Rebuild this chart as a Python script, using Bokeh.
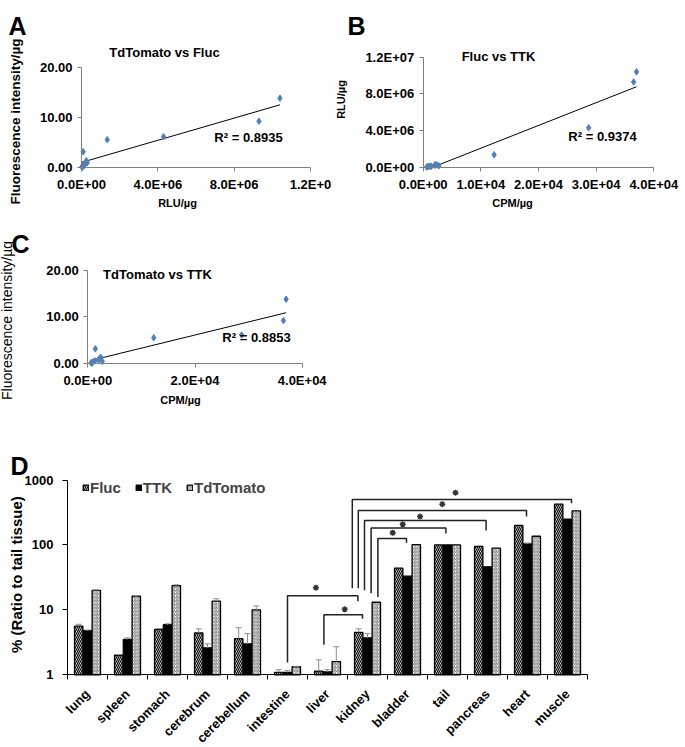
import math
import numpy as np
from bokeh.plotting import figure
from bokeh.models import (Label, ColumnDataSource, FixedTicker, Whisker, TeeHead, Legend,
                          LegendItem, Range1d, LinearAxis, LogAxis, LogScale)
from bokeh.embed import file_html
from bokeh.resources import INLINE

FONT = "Liberation Sans"
W, H = 685, 745

# ---------------- data: per-tissue correlation values (panels A-C) ----------------
rlu = [10.4e6, 9.3e6, 4.3e6, 1.35e6, 0.09e6, 0.25e6, 0.30e6, 0.15e6, 0.20e6, 0.05e6, 0.02e6, 0.10e6, 0.12e6]
cpm = [3.70e4, 3.65e4, 2.87e4, 1.23e4, 0.14e4, 0.24e4, 0.21e4, 0.27e4, 0.20e4, 0.08e4, 0.06e4, 0.10e4, 0.13e4]
fluor = [13.8, 9.2, 6.1, 5.5, 3.1, 1.3, 0.9, 0.4, 0.7, 0.0, 0.1, 0.3, 0.5]

r2_a = "R\u00b2 = 0.8935"
r2_b = "R\u00b2 = 0.9374"
r2_c = "R\u00b2 = 0.8853"

a_xticks = [0, 4e6, 8e6, 1.2e7]
a_xlabels = ["0.0E+00", "4.0E+06", "8.0E+06", "1.2E+0"]
fl_yticks = [0, 10, 20]
fl_ylabels = ["0.00", "10.00", "20.00"]
b_xticks = [0, 1e4, 2e4, 3e4, 4e4]
b_xlabels = ["0.0E+00", "1.0E+04", "2.0E+04", "3.0E+04", "4.0E+04"]
b_yticks = [0, 4e6, 8e6, 1.2e7]
b_ylabels = ["0.0E+00", "4.0E+06", "8.0E+06", "1.2E+07"]
c_xticks = [0, 2e4, 4e4]
c_xlabels = ["0.0E+00", "2.0E+04", "4.0E+04"]

# ---------------- data: tissue distribution (panel D) ----------------
cats = ["lung", "spleen", "stomach", "cerebrum", "cerebellum", "intestine", "liver",
        "kidney", "bladder", "tail", "pancreas", "heart", "muscle"]
fluc = [5.6, 2.0, 5.0, 4.4, 3.6, 1.09, 1.14, 4.5, 43.8, 100, 95, 200, 425]
ttk = [4.8, 3.5, 5.9, 2.6, 3.0, 1.09, 1.11, 3.7, 33, 100, 46, 104, 250]
tdtomato = [20.0, 16.2, 23.7, 13.6, 10.0, 1.33, 1.6, 13.1, 101, 100, 89, 136, 335]
fluc_sd = [0.4, 0.05, 0.15, 0.7, 1.7, 0.11, 0.56, 0.6, 0, 0, 0, 0, 0]
ttk_sd = [0.1, 0.2, 0.2, 0.4, 1.3, 0.08, 0.09, 0.6, 0, 0, 0, 3, 0]
tdtomato_sd = [0.3, 0.2, 0.6, 1.2, 1.5, 0.02, 1.1, 0.4, 0, 0, 0, 0, 0]
d_yticks = [1, 10, 100, 1000]
d_ylabels = ["1", "10", "100", "1000"]

# significance brackets: (left tissue, left shift, left leg bottom, right tissue, right shift,
#                         right leg bottom, bracket top, star x shift from left, star y)
brackets = [
    ("intestine", 0.00, 1.55, "kidney", -0.24, 13.6, 16.5, 0.71, 22.0),
    ("liver", -0.09, 2.9, "kidney", -0.125, 7.3, 8.4, 0.52, 10.2),
    ("kidney", 0.26, 15.8, "bladder", -0.025, 108, 126, 0.37, 154),
    ("kidney", 0.09, 18.0, "tail", -0.04, 150, 182, 0.79, 208),
    ("kidney", -0.075, 20.0, "pancreas", -0.035, 167, 238, 1.39, 273),
    ("kidney", -0.23, 21.6, "heart", -0.025, 273, 340, 2.10, 424),
    ("kidney", -0.38, 21.6, "muscle", 0.10, 440, 500, 2.58, 637),
]


# ---------------- layout helpers (page pixels -> range extents) ----------------
def span(d0, d1, p0, p1, size, axis, log=False):
    """Range whose value d0 sits at page pixel p0 and d1 at p1 (x: from left, y: from top)."""
    if log:
        d0, d1 = math.log10(d0), math.log10(d1)
    k = (d1 - d0) / (p1 - p0)
    a = d0 + (0 - p0) * k
    b = d0 + (size - p0) * k
    start, end = (a, b) if axis == "x" else (b, a)
    if log:
        start, end = 10 ** start, 10 ** end
    return Range1d(start, end)


p = figure(width=W, height=H, x_range=Range1d(0, W), y_range=Range1d(0, H),
           x_axis_location=None, y_axis_location=None,
           min_border_left=0, min_border_right=0, min_border_top=0, min_border_bottom=0,
           output_backend="svg", toolbar_location=None,
           extra_x_ranges={
               "ax": span(0, 1.2e7, 81, 310, W, "x"),
               "bx": span(0, 4e4, 422.7, 653.3, W, "x"),
               "cx": span(0, 4e4, 87.3, 301.7, W, "x"),
               "dx": span(0, len(cats), 67, 587, W, "x"),
           },
           extra_y_ranges={
               "ay": span(0, 20, 166.7, 66.7, H, "y"),
               "by": span(0, 1.2e7, 166.7, 56.7, H, "y"),
               "cy": span(0, 20, 362.7, 270, H, "y"),
               "dy": span(1, 1000, 674.3, 479.5, H, "y", log=True),
           },
           extra_y_scales={"dy": LogScale()})
p.outline_line_color = None
p.background_fill_color = "white"
p.grid.visible = False


def add_text(rx, ry, text, size, angle=0.0, align="center", baseline="middle", style="bold"):
    p.add_layout(Label(x=rx, y=H - ry, x_units="screen", y_units="screen",
                       text=text, angle=angle, text_align=align, text_baseline=baseline,
                       text_font=FONT, text_font_style=style, text_font_size=f"{size}px",
                       text_color="black"))


def add_axis(cls, side, xr, yr, fixed, bounds, ticks, labels, color, size="13px", standoff=5,
             tick_out=4):
    ax = cls(x_range_name=xr, y_range_name=yr, fixed_location=fixed, bounds=bounds,
             ticker=FixedTicker(ticks=ticks, minor_ticks=[]),
             major_label_overrides={t: l for t, l in zip(ticks, labels)})
    ax.axis_line_color = color
    ax.major_tick_line_color = color
    ax.minor_tick_line_color = None
    ax.major_tick_in = 0
    ax.major_tick_out = tick_out
    ax.major_label_standoff = standoff
    ax.major_label_text_font = FONT
    ax.major_label_text_font_style = "bold"
    ax.major_label_text_font_size = size
    ax.major_label_text_color = "black"
    p.add_layout(ax, side)
    return ax


def scatter_panel(xr, yr, xs, ys, xticks, xlabels, yticks, ylabels):
    add_axis(LinearAxis, "below", xr, yr, 0, (xticks[0], xticks[-1]), xticks, xlabels,
             "#7f7f7f", standoff=6)
    add_axis(LinearAxis, "left", xr, yr, 0, (yticks[0], yticks[-1]), yticks, ylabels,
             "#7f7f7f", standoff=5)
    k, b = np.polyfit(xs, ys, 1)
    lx = [min(xs), max(xs)]
    p.line(lx, [k * v + b for v in lx], line_color="black", line_width=1,
           x_range_name=xr, y_range_name=yr)
    p.scatter(xs, ys, marker="diamond", size=6.5, fill_color="#4f81bd", line_color="#4f81bd",
              x_range_name=xr, y_range_name=yr)


# ---------------- Panel A ----------------
scatter_panel("ax", "ay", rlu, fluor, a_xticks, a_xlabels, fl_yticks, fl_ylabels)
add_text(8, 25, "A", 25, align="left", baseline="alphabetic")
add_text(164, 52, "TdTomato vs Fluc", 13)
add_text(248, 137, r2_a, 13)
add_text(14.5, 121, "Fluorescence intensity/\u00b5g", 13.5, angle=math.pi / 2)
add_text(177, 202, "RLU/\u00b5g", 11)

# ---------------- Panel B ----------------
scatter_panel("bx", "by", cpm, rlu, b_xticks, b_xlabels, b_yticks, b_ylabels)
add_text(347, 25, "B", 25, align="left", baseline="alphabetic")
add_text(498, 56, "Fluc vs TTK", 13)
add_text(602, 136, r2_b, 13)
add_text(340.5, 99, "RLU/\u00b5g", 11, angle=math.pi / 2)
add_text(512, 202, "CPM/\u00b5g", 11)

# ---------------- Panel C ----------------
scatter_panel("cx", "cy", cpm, fluor, c_xticks, c_xlabels, fl_yticks, fl_ylabels)
add_text(11, 243, "C", 25, align="left", baseline="alphabetic")
add_text(157, 274, "TdTomato vs TTK", 13)
add_text(256, 337, r2_c, 13)
add_text(6.5, 318, "Fluorescence  intensity/\u00b5g", 14, angle=math.pi / 2, style="normal")
add_text(180, 399, "CPM/\u00b5g", 11)

# ---------------- Panel D ----------------
centers = [i + 0.5 for i in range(len(cats))]
add_axis(LogAxis, "left", "dx", "dy", 0, (1, 1000), d_yticks, d_ylabels, "black",
         standoff=9, tick_out=5)
xa = LinearAxis(x_range_name="dx", y_range_name="dy", fixed_location=1, bounds=(0, len(cats)),
                ticker=FixedTicker(ticks=centers, minor_ticks=list(range(len(cats) + 1))),
                major_label_overrides={c: t for c, t in zip(centers, cats)})
xa.axis_line_color = "black"
xa.major_tick_line_color = None
xa.major_tick_in = 0
xa.major_tick_out = 0
xa.minor_tick_line_color = "black"
xa.minor_tick_in = 0
xa.minor_tick_out = 5
xa.major_label_orientation = math.pi / 4
xa.major_label_standoff = 12
xa.major_label_text_font = FONT
xa.major_label_text_font_style = "bold"
xa.major_label_text_font_size = "13px"
xa.major_label_text_color = "black"
p.add_layout(xa, "below")

series = [
    ("Fluc", fluc, fluc_sd, -0.22,
     dict(fill_color="white", hatch_pattern="\\", hatch_color="black", hatch_weight=1.2,
          hatch_scale=4.0)),
    ("TTK", ttk, ttk_sd, 0.0, dict(fill_color="black")),
    ("TdTomato", tdtomato, tdtomato_sd, 0.22,
     dict(fill_color="white", hatch_pattern="/", hatch_color="#777777", hatch_weight=1.0,
          hatch_scale=3.5)),
]
items = []
for name, vals, sd, off, sty in series:
    src = ColumnDataSource(dict(x=[c + off for c in centers], top=vals))
    r = p.vbar(x="x", top="top", bottom=1, width=0.21, source=src, line_color="black",
               line_width=1.3, x_range_name="dx", y_range_name="dy", **sty)
    items.append(LegendItem(label=name, renderers=[r]))
    ex = [c + off for c, s in zip(centers, sd) if s > 0]
    elo = [v for v, s in zip(vals, sd) if s > 0]
    ehi = [v + s for v, s in zip(vals, sd) if s > 0]
    esrc = ColumnDataSource(dict(x=ex, lo=elo, hi=ehi))
    p.add_layout(Whisker(source=esrc, base="x", lower="lo", upper="hi", dimension="height",
                         x_range_name="dx", y_range_name="dy",
                         line_color="#8c8c8c", line_width=1,
                         upper_head=TeeHead(size=6, line_color="#8c8c8c", line_width=1),
                         lower_head=None, level="annotation"))

legend = Legend(items=items, orientation="horizontal", location=(82, H - 480 - 16), padding=0,
                margin=0, spacing=14, label_standoff=1, glyph_width=7, glyph_height=7,
                label_height=16, border_line_color=None, background_fill_alpha=0,
                label_text_font=FONT, label_text_font_style="bold", label_text_font_size="15px")
p.add_layout(legend)

# significance brackets
idx = {c: i + 0.5 for i, c in enumerate(cats)}
bxs, bys, sx, sy = [], [], [], []
for lc, lo, lb, rc, ro, rb, top, star_dx, star_y in brackets:
    x0 = idx[lc] + lo
    x1 = idx[rc] + ro
    bxs.append([x0, x0, x1, x1])
    bys.append([lb, top, top, rb])
    sx.append(x0 + star_dx)
    sy.append(star_y)
p.multi_line(bxs, bys, line_color="#222222", line_width=1.5, x_range_name="dx", y_range_name="dy")
p.scatter(sx, sy, marker="asterisk", size=6, line_color="#333333", line_width=1.5,
          x_range_name="dx", y_range_name="dy")

add_text(10, 465, "D", 25, align="left", baseline="alphabetic")
add_text(15.5, 572, "%  (Ratio to tail tissue)", 15, angle=math.pi / 2)

open("out.html", "w").write(file_html(p, INLINE))
